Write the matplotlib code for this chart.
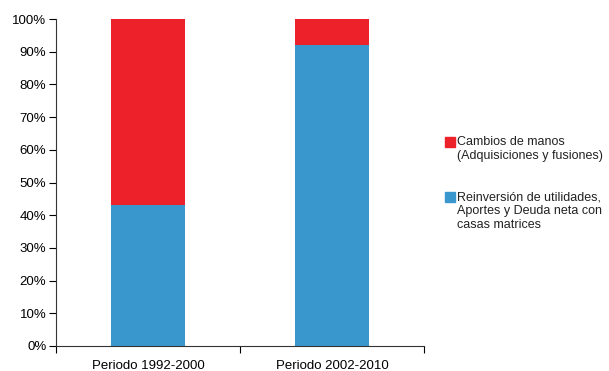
import matplotlib
matplotlib.use("Agg")
import matplotlib.pyplot as plt
from matplotlib.patches import Rectangle
from matplotlib.ticker import FuncFormatter

periods = ["Periodo 1992-2000", "Periodo 2002-2010"]
reinversion = [43, 92]
cambios = [57, 8]
legend_labels = [
    "Cambios de manos\n(Adquisiciones y fusiones)",
    "Reinversión de utilidades,\nAportes y Deuda neta con\ncasas matrices",
]

RED = "#ED2129"
BLUE = "#3997CD"

plt.rcParams["font.family"] = ["Liberation Sans", "DejaVu Sans"]
plt.rcParams["font.size"] = 9.5

W, H = 609, 371
fig = plt.figure(figsize=(W / 100, H / 100), dpi=100)
ax = fig.add_axes([56 / W, 1 - 346 / H, (424 - 56) / W, (346 - 19) / H])

pos = [i + 0.5 for i in range(len(periods))]
ax.bar(pos, reinversion, width=0.4, color=BLUE)
ax.bar(pos, cambios, width=0.4, bottom=reinversion, color=RED)

ax.set_xlim(0, len(periods))
ax.set_ylim(0, 100)
ax.set_yticks(range(0, 101, 10))
ax.yaxis.set_major_formatter(FuncFormatter(lambda v, p: f"{v:.0f}%"))

ax.set_xticks(range(len(periods) + 1))
ax.set_xticklabels([])
ax.set_xticks(pos, minor=True)
ax.set_xticklabels(periods, minor=True)
ax.tick_params(axis="x", which="minor", length=0, pad=10)
ax.tick_params(axis="x", which="major", length=5, direction="out")
ax.tick_params(axis="y", length=5, direction="out", pad=2)

for s in ["top", "right"]:
    ax.spines[s].set_visible(False)
for s in ["left", "bottom"]:
    ax.spines[s].set_color("#333333")

# legend drawn by hand so the swatch sits on the first line
entries = [(RED, legend_labels[0], 142), (BLUE, legend_labels[1], 197)]
for color, label, ytop in entries:
    fig.patches.append(Rectangle((445 / W, 1 - (ytop + 5) / H), 10 / W, 10 / H,
                                 transform=fig.transFigure, color=color))
    fig.text(457 / W, 1 - (ytop - 6) / H, label, va="top", ha="left",
             fontsize=9, linespacing=1.25, color="#222222")

fig.savefig("out.png", dpi=100)
